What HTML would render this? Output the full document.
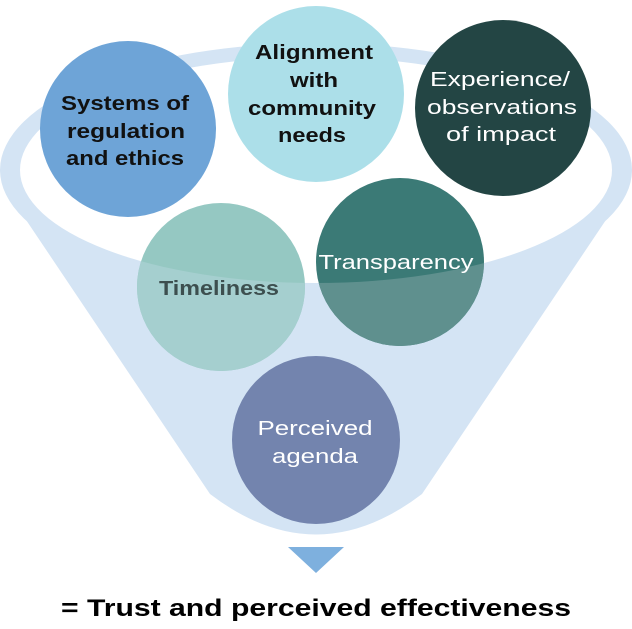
<!DOCTYPE html>
<html><head><meta charset="utf-8"><style>html,body{margin:0;padding:0;background:#fff}svg{display:block}</style></head>
<body>
<svg width="632" height="629" viewBox="0 0 632 629" xmlns="http://www.w3.org/2000/svg" font-family="Liberation Sans, sans-serif">
<defs>
<clipPath id="outside" clip-rule="evenodd">
<path clip-rule="evenodd" d="M0 0H632V629H0Z M20 170 A296 113 0 1 0 612 170 A296 113 0 1 0 20 170Z"/>
</clipPath>
</defs>
<ellipse cx="316" cy="170" rx="316" ry="127" fill="#d4e4f4"/>
<path d="M0 170 Q 2 188 12 199 L210 494 Q316 575 422 494 L620 199 Q 630 188 632 170 Z" fill="#d4e4f4"/>
<ellipse cx="316" cy="170" rx="296" ry="113" fill="#fff"/>
<circle cx="128" cy="129" r="88" fill="#6ea4d7"/>
<circle cx="316" cy="94" r="88" fill="#acdfe9"/>
<circle cx="503" cy="108" r="88" fill="#234544"/>
<circle cx="221" cy="287" r="84" fill="#95c8c2"/>
<circle cx="400" cy="262" r="84" fill="#3b7a76"/>
<g clip-path="url(#outside)">
<circle cx="221" cy="287" r="84" fill="#a5cfcf"/>
<circle cx="400" cy="262" r="84" fill="#5f908e"/>
</g>
<circle cx="316" cy="440" r="84" fill="#7384ae"/>
<polygon points="288,547 344,547 316,573" fill="#7eb0de"/>
<g font-size="20" text-anchor="middle">
<g fill="#111" font-weight="bold">
<text x="125" y="110" textLength="128" lengthAdjust="spacingAndGlyphs">Systems of</text>
<text x="126" y="138" textLength="118" lengthAdjust="spacingAndGlyphs">regulation</text>
<text x="125" y="165" textLength="118" lengthAdjust="spacingAndGlyphs">and ethics</text>
<text x="314" y="59" textLength="118" lengthAdjust="spacingAndGlyphs">Alignment</text>
<text x="314" y="87" textLength="48" lengthAdjust="spacingAndGlyphs">with</text>
<text x="312" y="115" textLength="128" lengthAdjust="spacingAndGlyphs">community</text>
<text x="312" y="142" textLength="68" lengthAdjust="spacingAndGlyphs">needs</text>
</g>
<g fill="#fff">
<text x="500" y="86" textLength="140" lengthAdjust="spacingAndGlyphs">Experience/</text>
<text x="502" y="114" textLength="150" lengthAdjust="spacingAndGlyphs">observations</text>
<text x="501" y="141" textLength="110" lengthAdjust="spacingAndGlyphs">of impact</text>
<text x="396" y="269" textLength="155" lengthAdjust="spacingAndGlyphs">Transparency</text>
<text x="315" y="435" textLength="115" lengthAdjust="spacingAndGlyphs">Perceived</text>
<text x="315" y="463" textLength="86" lengthAdjust="spacingAndGlyphs">agenda</text>
</g>
<text x="219" y="295" fill="#3d4f4f" font-weight="bold" textLength="120" lengthAdjust="spacingAndGlyphs">Timeliness</text>
</g>
<text x="316" y="616" font-size="24" font-weight="bold" text-anchor="middle" fill="#000" textLength="510" lengthAdjust="spacingAndGlyphs">= Trust and perceived effectiveness</text>
</svg>
</body></html>
